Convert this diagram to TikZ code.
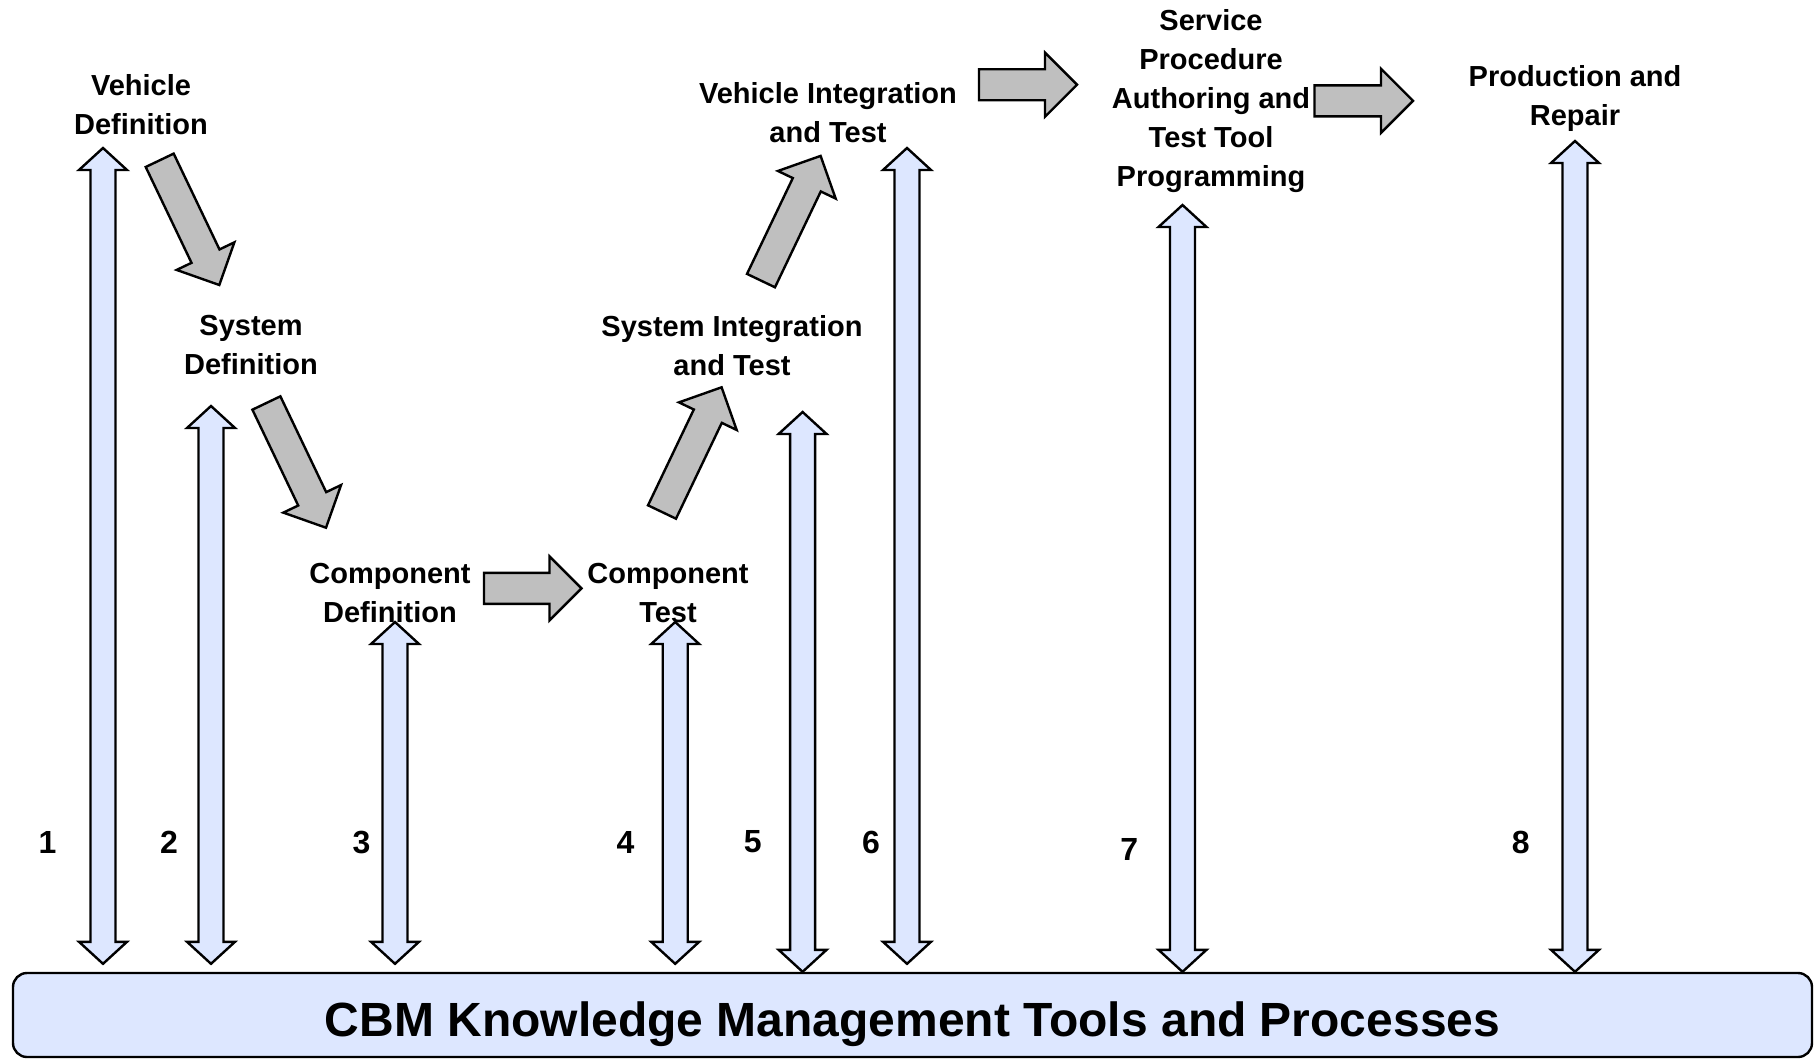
\documentclass[tikz,border=0pt]{standalone}
\usepackage{fontspec}
\setmainfont{Liberation Sans}
\usetikzlibrary{calc,positioning}
\definecolor{kmblue}{RGB}{221,231,255}
\definecolor{flowgray}{RGB}{191,191,191}
\tikzset{
    lbl/.style ={align=center, inner sep=0pt, font=\fontsize{29}{39}\selectfont\bfseries},
    num/.style ={inner sep=0pt, font=\fontsize{32}{38}\selectfont\bfseries},
    flow/.style={draw, fill=flowgray, line width=2.4pt, line join=miter},
    link/.style={draw, fill=kmblue, line width=2.4pt, line join=miter},
    kmbox/.style={draw, fill=kmblue, line width=2.4pt, rounded corners=14pt,
        minimum width=1799pt, minimum height=84pt, inner sep=0pt,
        text height=42.4pt, text depth=0pt,
        font=\fontsize{48}{56}\selectfont\bfseries}
}
% gray block arrow: tail, tip
\newcommand{\grayarrow}[2]{%
    \coordinate (hb) at ($(#2)!32pt!(#1)$);
    \path[flow] ($(#1)!15.5pt!90:(#2)$) -- ($(hb)!15.5pt!90:(#2)$) -- ($(hb)!32pt!90:(#2)$) -- (#2)
        -- ($(hb)!32pt!-90:(#2)$) -- ($(hb)!15.5pt!-90:(#2)$) -- ($(#1)!15.5pt!-90:(#2)$) -- cycle;}
% blue double arrow: top tip, bottom tip
\newcommand{\kmarrow}[2]{%
    \coordinate (ha) at ($(#1)!22pt!(#2)$);
    \coordinate (hz) at ($(#2)!22pt!(#1)$);
    \path[link] (#1) -- ($(ha)!24pt!90:(#1)$) -- ($(ha)!12.5pt!90:(#1)$)
        -- ($(hz)!12.5pt!-90:(#2)$) -- ($(hz)!24pt!-90:(#2)$) -- (#2)
        -- ($(hz)!24pt!90:(#2)$) -- ($(hz)!12.5pt!90:(#2)$)
        -- ($(ha)!12.5pt!-90:(#1)$) -- ($(ha)!24pt!-90:(#1)$) -- cycle;}

\begin{document}
\begin{tikzpicture}[x=1pt,y=-1pt]
    \useasboundingbox (0,0) rectangle (1816,1060);

    \node[kmbox] (kb) at (912.5,1015) {CBM Knowledge Management Tools and Processes};

    \node[lbl] (vdef) at (141,104.5) {Vehicle\\Definition};
    \node[lbl] (sdef) at (251,345.5) {System\\Definition};
    \node[lbl] (cdef) at (390,593) {Component\\Definition};
    \node[lbl] (ctest) at (668,593) {Component\\Test};
    \node[lbl] (sint) at (732,345.5) {System Integration\\and Test};
    \node[lbl] (vint) at (828,113) {Vehicle Integration\\and Test};
    \node[lbl] (serv) at (1211,101.5) {Service\\Procedure\\Authoring and\\Test Tool\\Programming};
    \node[lbl] (prod) at (1575,98.5) {Production and\\Repair};

    % flow between the stages
    \coordinate (a1s) at (159.7,160.3);  \coordinate (a1e) at (219.3,285);
    \coordinate (a2s) at (266.4,403);    \coordinate (a2e) at (326,527.7);
    \coordinate (a3s) at (484,588.4);    \coordinate (a3e) at (581.5,588.4);
    \coordinate (a4s) at (662,512);      \coordinate (a4e) at (721.6,387.3);
    \coordinate (a5s) at (761,280.6);    \coordinate (a5e) at (820.6,155.9);
    \coordinate (a6s) at (979,84.7);     \coordinate (a6e) at (1077,84.7);
    \coordinate (a7s) at (1314.5,100.8); \coordinate (a7e) at (1413,100.8);
    \grayarrow{a1s}{a1e}
    \grayarrow{a2s}{a2e}
    \grayarrow{a3s}{a3e}
    \grayarrow{a4s}{a4e}
    \grayarrow{a5s}{a5e}
    \grayarrow{a6s}{a6e}
    \grayarrow{a7s}{a7e}

    % links to the knowledge base
    \foreach \n/\x/\top/\gap/\nx/\ny in {1/103/148/8/47.5/842, 2/211/406/8/169/842,
        3/395/622/8/361.4/842, 4/675.2/622/8/625.4/842, 5/802.6/412/0/752.8/842,
        6/907/148/8/871/842, 7/1182.5/205/0/1129.2/849, 8/1575/141/0/1520.7/842}{
        \coordinate (u\n) at (\x,\top);
        \coordinate (d\n) at ([yshift=\gap pt]u\n |- kb.north);
        \kmarrow{u\n}{d\n}
        \node[num] (n\n) at (\nx,\ny) {\n};
    }
\end{tikzpicture}
\end{document}
